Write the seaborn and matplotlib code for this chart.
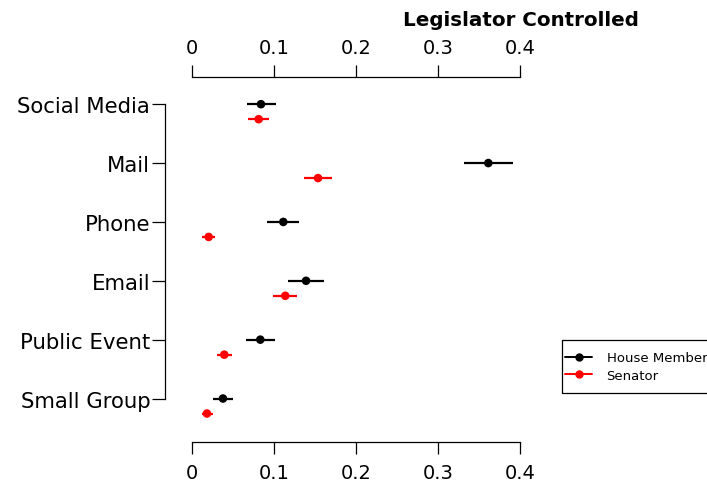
import matplotlib
matplotlib.use("Agg")
import matplotlib.pyplot as plt
from matplotlib.lines import Line2D
from matplotlib.patches import Rectangle
import numpy as np
import pandas as pd
import seaborn as sns

# Contact channels, top to bottom
categories = ["Social Media", "Mail", "Phone", "Email", "Public Event", "Small Group"]

# Estimated share with confidence interval, House members
house_est = [0.0844, 0.3614, 0.1116, 0.1393, 0.0836, 0.0381]
house_lo = [0.0670, 0.3314, 0.0917, 0.1177, 0.0665, 0.0263]
house_hi = [0.1023, 0.3911, 0.1311, 0.1612, 0.1015, 0.0507]

# Estimated share with confidence interval, Senators
senate_est = [0.0816, 0.1539, 0.0207, 0.1140, 0.0397, 0.0186]
senate_lo = [0.0690, 0.1372, 0.0129, 0.0994, 0.0305, 0.0125]
senate_hi = [0.0945, 0.1706, 0.0280, 0.1287, 0.0495, 0.0256]

x_ticks = [0, 0.1, 0.2, 0.3, 0.4]
x_tick_labels = ["0", "0.1", "0.2", "0.3", "0.4"]
series_names = ["House Member", "Senator"]
title = "Legislator Controlled"

colors = {"House Member": "black", "Senator": "#FF0000"}
offsets = {"House Member": 0.0, "Senator": 0.255}

rows = []
for name, est, lo, hi in [("House Member", house_est, house_lo, house_hi),
                          ("Senator", senate_est, senate_lo, senate_hi)]:
    for i, cat in enumerate(categories):
        rows.append({"category": cat, "role": name, "est": est[i], "lo": lo[i],
                     "hi": hi[i], "pos": i + offsets[name]})
df = pd.DataFrame(rows)

sns.set_style("white")
plt.rcParams["font.family"] = ["DejaVu Sans"]
plt.rcParams["text.color"] = "black"
plt.rcParams["axes.labelcolor"] = "black"
plt.rcParams["xtick.color"] = "black"
plt.rcParams["ytick.color"] = "black"

W, H = 707, 485
fig = plt.figure(figsize=(W / 100, H / 100), dpi=100)
ax = fig.add_axes([191.7 / W, 1 - 443.3 / H, (520 - 191.7) / W, (443.3 - 78.3) / H])

# Confidence interval segments
for role, g in df.groupby("role"):
    ax.hlines(g["pos"], g["lo"], g["hi"], color=colors[role], lw=1.6, zorder=2)

sns.scatterplot(data=df, x="est", y="pos", hue="role", palette=colors,
                s=38, edgecolor="none", legend=False, ax=ax, zorder=3, clip_on=False)

ax.set_xlim(0, 0.4)
ax.set_ylim(5.744, -0.457)
ax.set_xlabel("")
ax.set_ylabel("")

# Axes: bottom and top numeric scales, left category scale
ax.spines["right"].set_visible(False)
for side in ["top", "bottom", "left"]:
    ax.spines[side].set_color("black")
    ax.spines[side].set_linewidth(0.9)
ax.spines["left"].set_position(("outward", 19.2))
ax.spines["left"].set_bounds(0, len(categories) - 1)

ax.set_xticks(x_ticks)
ax.set_xticklabels(x_tick_labels)
ax.set_yticks(range(len(categories)))
ax.set_yticklabels(categories)
ax.tick_params(axis="x", which="both", top=True, bottom=True, labeltop=True,
               labelbottom=True, direction="out", length=8.6, width=0.9,
               pad=6.2, labelsize=14, colors="black")
ax.tick_params(axis="y", which="both", left=True, direction="out", length=9.5,
               width=0.9, pad=1.2, labelsize=15.3, colors="black")

fig.text(520.5 / W, 1 - 26 / H, title, ha="center", va="baseline",
         fontsize=14.3, fontweight="bold", color="black")

# Legend with a plain rectangular frame
handles = [Line2D([], [], color=colors[n], lw=1.4, marker="o", markersize=5,
                  markeredgecolor=colors[n]) for n in series_names]
leg = fig.legend(handles, series_names, loc="center left",
                 bbox_to_anchor=(565 / W, 1 - 367.7 / H), bbox_transform=fig.transFigure,
                 frameon=False, fontsize=9.5, borderpad=0, borderaxespad=0,
                 handlelength=2.05, handletextpad=1.1, labelspacing=0.35,
                 labelcolor="black")
fig.patches.append(Rectangle((561.7 / W, 1 - 394.3 / H), (760 - 561.7) / W,
                             (394.3 - 340.7) / H, transform=fig.transFigure,
                             fill=False, edgecolor="black", lw=0.9))

fig.savefig("out.png", dpi=100)
